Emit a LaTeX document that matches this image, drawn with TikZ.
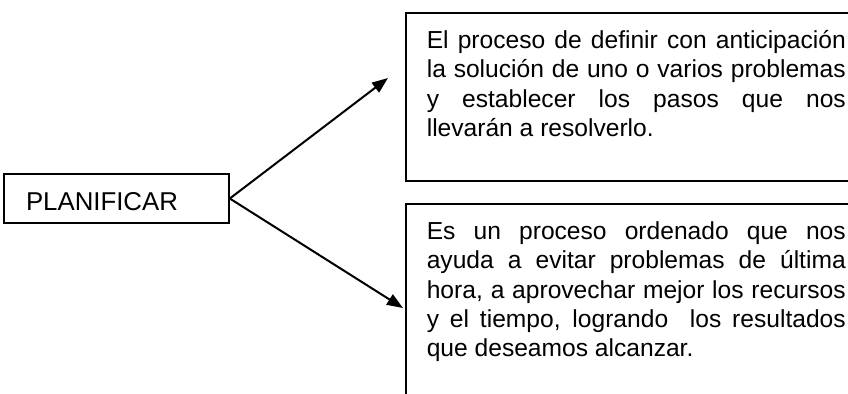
\documentclass[tikz,border=0pt]{standalone}
\usepackage{fontspec}
\setmainfont{Liberation Sans}
\usetikzlibrary{arrows.meta}
\tolerance=9999
\hyphenpenalty=10000

\tikzset{
  conceptbox/.style={draw, line width=0.8pt, text width=90.5pt, align=left,
    inner xsep=11pt, minimum width=112.5pt, minimum height=24.5pt,
    text height=12pt, text depth=0pt, font=\fontsize{12.9pt}{15pt}\selectfont},
  descbox/.style={draw, line width=0.8pt, anchor=north west, text width=209.5pt,
    align=justify, inner xsep=10.5pt, inner ysep=6pt, text height=12pt,
    font=\fontsize{12.3pt}{14.55pt}\selectfont},
  branch/.style={-{Triangle[length=8pt,width=6pt]}, line width=1pt},
}

\begin{document}
\begin{tikzpicture}[x=0.5pt, y=-0.5pt]
  \useasboundingbox (0,0) rectangle (848,393);

  % Main concept
  \node[conceptbox] (plan) at (116.5,198.5) {PLANIFICAR};

  % Descriptions (right edges run off the page)
  \node[descbox, text depth=60pt] (def) at (405,12)
    {El proceso de definir con anticipación\linebreak
     la solución de uno o varios problemas\linebreak
     y establecer los pasos que nos\linebreak
     llevarán a resolverlo.};
  \node[descbox, text depth=120pt] (use) at (405,203)
    {Es un proceso ordenado que nos\linebreak
     ayuda a evitar problemas de última\linebreak
     hora, a aprovechar mejor los recursos\linebreak
     y el tiempo, logrando\ \ los resultados\linebreak
     que deseamos alcanzar.};

  % Arrows
  \coordinate (tipA) at (388,78);
  \coordinate (tipB) at (403,308);
  \draw[branch] (plan.east) -- (tipA);
  \draw[branch] (plan.east) -- (tipB);
\end{tikzpicture}
\end{document}
